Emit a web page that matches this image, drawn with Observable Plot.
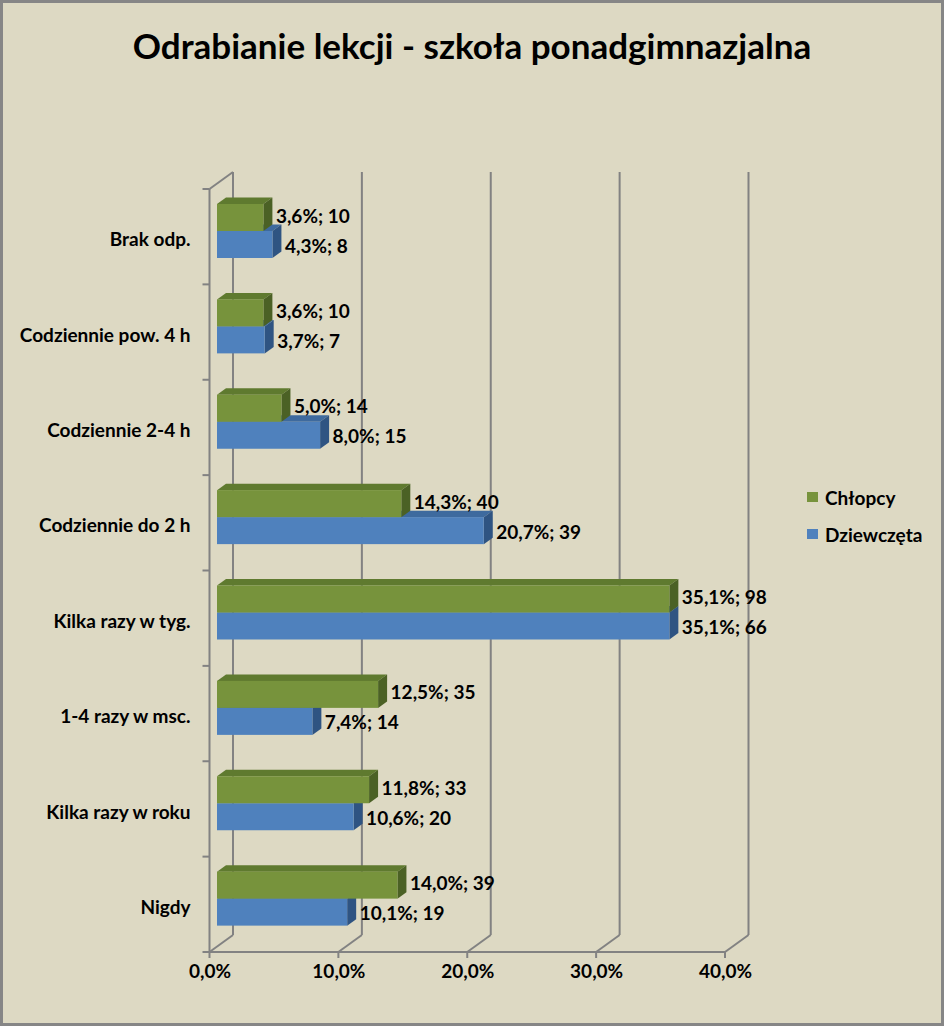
<!DOCTYPE html>
<html><head><meta charset="utf-8">
<script src="https://cdn.jsdelivr.net/npm/d3@7"></script>
<script src="https://cdn.jsdelivr.net/npm/@observablehq/plot@0.6"></script>
<style>
html,body{margin:0;padding:0;background:#fff;}
#chart{position:relative;width:944px;height:1026px;box-sizing:border-box;border:3px solid #868686;background:#DDD9C3;font-family:Lato,"Open Sans",sans-serif;overflow:hidden;color:#000;}
#title{height:107px;box-sizing:border-box;padding-top:22px;line-height:40px;text-align:center;font-weight:bold;font-size:35px;}
#legend{position:absolute;left:804px;top:484px;font-weight:bold;font-size:19px;}
#legend .item{display:flex;align-items:center;height:20px;margin-bottom:17px;}
#legend .sw{width:11px;height:10px;margin-right:7px;}
</style>
</head><body>
<div id="chart">
  <div id="title">Odrabianie lekcji - szkoła ponadgimnazjalna</div>
  <div id="plot"></div>
  <div id="legend"></div>
</div>
<script>
const categories = ["Brak odp.","Codziennie pow. 4 h","Codziennie 2-4 h","Codziennie do 2 h","Kilka razy w tyg.","1-4 razy w msc.","Kilka razy w roku","Nigdy"];
const seriesNames = ["Chłopcy","Dziewczęta"];
const chlopcyPct = [3.6,3.6,5.0,14.3,35.1,12.5,11.8,14.0];
const chlopcyN = [10,10,14,40,98,35,33,39];
const dziewczetaPct = [4.3,3.7,8.0,20.7,35.1,7.4,10.6,10.1];
const dziewczetaN = [8,7,15,39,66,14,20,19];
const xTicks = [0,10,20,30,40];
const colors = {
  "Chłopcy": {front:"#77933C", top:"#5F7A2F", side:"#4B6125"},
  "Dziewczęta": {front:"#4F81BD", top:"#3E6A9E", side:"#2F5482"}
};

const fmt = v => v.toFixed(1).replace(".", ",");
const boys = categories.map((c,i)=>({cat:c, pct:chlopcyPct[i], n:chlopcyN[i], series:seriesNames[0]}));
const girls = categories.map((c,i)=>({cat:c, pct:dziewczetaPct[i], n:dziewczetaN[i], series:seriesNames[1]}));

const DX = 23.5, DY = -17;       // floor depth
const OFF = 7.5;                 // bar front offset
const BDX = 9, BDY = -6.5;       // bar depth
const G0 = 15, G1 = 42, B1 = 69; // bar edges from band top

function frame(index, scales, values, dims) {
  const {x, y} = scales;
  const top = dims.marginTop, floor = dims.height - dims.marginBottom;
  const x0 = x(0);
  const g = d3.create("svg:g").attr("stroke", "#828282").attr("stroke-width", 2).attr("fill", "none");
  for (const v of xTicks) {
    g.append("path").attr("d", `M${x(v)+DX},${top+DY}V${floor+DY}`);
    g.append("path").attr("d", `M${x(v)},${floor}L${x(v)+DX},${floor+DY}`);
    g.append("path").attr("d", `M${x(v)},${floor}V${floor+6}`);
  }
  g.append("path").attr("d", `M${x0},${top}L${x0+DX},${top+DY}`);
  g.append("path").attr("d", `M${x0},${top}V${floor}`);
  g.append("path").attr("d", `M${x0},${floor}H${x(xTicks[xTicks.length-1])}`);
  const step = y(categories[1]) - y(categories[0]);
  const bounds = categories.map(c => y(c)).concat([y(categories[categories.length-1]) + step]);
  for (const b of bounds) g.append("path").attr("d", `M${x0-7},${b}H${x0}`);
  return g.node();
}

function faces(data, r0, r1) {
  return (index, scales) => {
    const {x, y} = scales;
    const g = d3.create("svg:g");
    for (const d of data) {
      const c = colors[d.series];
      const xa = x(0)+OFF, xb = x(d.pct)+OFF;
      const t = y(d.cat)+r0, b = y(d.cat)+r1;
      g.append("path").attr("fill", c.top).attr("d", `M${xa},${t}L${xb},${t}L${xb+BDX},${t+BDY}L${xa+BDX},${t+BDY}Z`);
      g.append("path").attr("fill", c.side).attr("d", `M${xb},${t}L${xb+BDX},${t+BDY}L${xb+BDX},${b+BDY}L${xb},${b}Z`);
    }
    return g.node();
  };
}

const chart = Plot.plot({
  width: 938,
  height: 913,
  marginLeft: 206.5,
  marginRight: 216,
  marginTop: 79,
  marginBottom: 71,
  style: {background: "transparent", fontFamily: "Lato, 'Open Sans', sans-serif", fontSize: "19px", fontWeight: "bold", color: "#000", overflow: "visible"},
  x: {domain: [0, 40], axis: null},
  y: {domain: categories, padding: 0, round: false},
  marks: [
    frame,
    faces(girls, G1, B1),
    Plot.barX(girls, {x1: 0, x2: "pct", y: "cat", fill: colors["Dziewczęta"].front, insetTop: G1, insetBottom: 95.375 - B1, dx: OFF}),
    faces(boys, G0, G1),
    Plot.barX(boys, {x1: 0, x2: "pct", y: "cat", fill: colors["Chłopcy"].front, insetTop: G0, insetBottom: 95.375 - G1, dx: OFF}),
    Plot.text(boys, {x: "pct", y: "cat", text: d => `${fmt(d.pct)}%; ${d.n}`, textAnchor: "start", dx: OFF + 12, dy: -20.7, fill: "#000", fontSize: 19}),
    Plot.text(girls, {x: "pct", y: "cat", text: d => `${fmt(d.pct)}%; ${d.n}`, textAnchor: "start", dx: OFF + 12, dy: 9.3, fill: "#000", fontSize: 19}),
    Plot.text(xTicks, {x: d => d, text: d => fmt(d) + "%", frameAnchor: "bottom", dy: 25, fill: "#000", fontSize: 19}),
    Plot.axisY({tickSize: 0, tickPadding: 19.5, dy: 3, label: null, fill: "#000", fontSize: 19})
  ]
});
document.getElementById("plot").appendChild(chart);

const legend = d3.select("#legend");
for (const s of seriesNames) {
  const it = legend.append("div").attr("class", "item");
  it.append("div").attr("class", "sw").style("background", colors[s].front);
  it.append("span").text(s);
}
</script>
</body></html>
